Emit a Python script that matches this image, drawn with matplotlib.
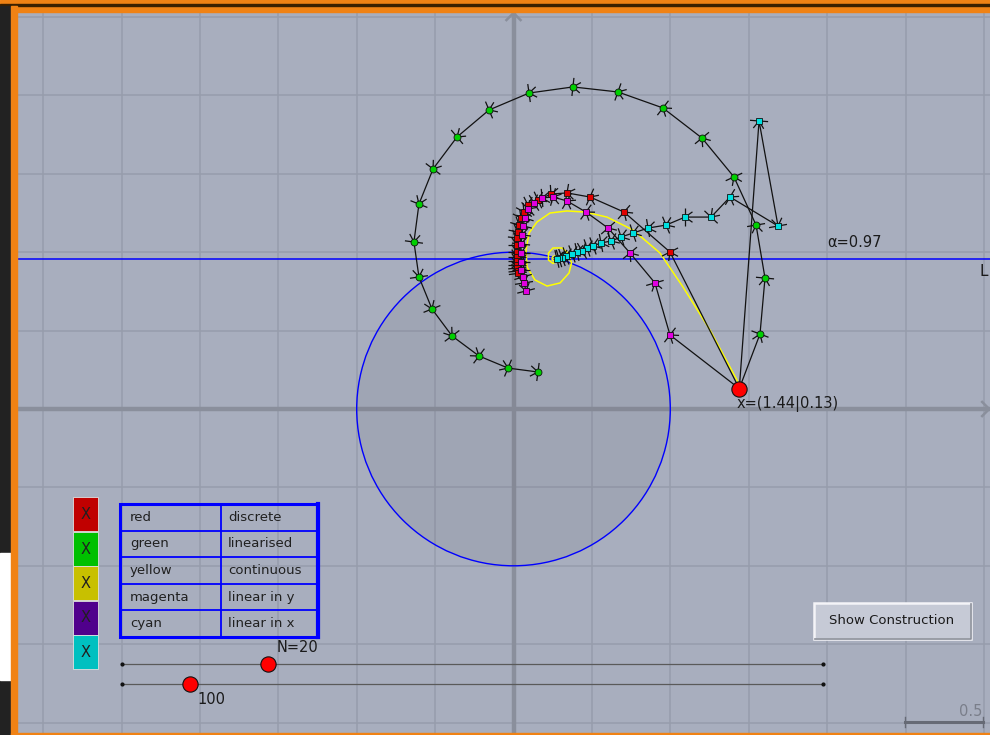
import numpy as np
import matplotlib
matplotlib.use("Agg")
import matplotlib.pyplot as plt
from matplotlib.patches import Rectangle, Circle
from matplotlib.collections import LineCollection

# ---- data (units of the plane) ----
x0 = (1.44, 0.13)
alpha = 0.97
fixed_pt = (0.258, 0.960)
line_y = 0.957

green_x = [1.572, 1.604, 1.547, 1.406, 1.202, 0.953, 0.666, 0.379, 0.099, -0.156,
           -0.360, -0.513, -0.603, -0.635, -0.603, -0.520, -0.392, -0.220, -0.035, 0.156]
green_y = [0.478, 0.835, 1.173, 1.480, 1.728, 1.920, 2.022, 2.054, 2.015, 1.907,
           1.735, 1.531, 1.307, 1.065, 0.842, 0.638, 0.466, 0.338, 0.261, 0.236]

red_x = [0.998, 0.705, 0.488, 0.341, 0.239, 0.156, 0.092, 0.067, 0.048, 0.035,
         0.026, 0.022, 0.022, 0.022, 0.022, 0.022, 0.022, 0.024, 0.026, 0.028]
red_y = [1.001, 1.256, 1.352, 1.378, 1.371, 1.333, 1.301, 1.256, 1.218, 1.173,
         1.129, 1.091, 1.046, 1.001, 0.969, 0.945, 0.920, 0.899, 0.880, 0.865]

magenta_x = [0.998, 0.902, 0.743, 0.603, 0.462, 0.341, 0.252, 0.182, 0.131, 0.092,
             0.073, 0.061, 0.054, 0.048, 0.048, 0.048, 0.048, 0.061, 0.067, 0.080]
magenta_y = [0.472, 0.804, 0.995, 1.154, 1.256, 1.327, 1.352, 1.346, 1.314, 1.276,
             1.218, 1.167, 1.110, 1.052, 0.995, 0.938, 0.886, 0.842, 0.804, 0.753]

cyan_x = [1.566, 1.687, 1.381, 1.260, 1.094, 0.973, 0.858, 0.762, 0.686, 0.622,
          0.558, 0.507, 0.469, 0.437, 0.405, 0.373, 0.335, 0.309, 0.290, 0.277]
cyan_y = [1.837, 1.167, 1.352, 1.224, 1.224, 1.173, 1.154, 1.122, 1.097, 1.071,
          1.059, 1.040, 1.027, 1.008, 1.001, 0.989, 0.976, 0.966, 0.960, 0.957]

yellow_x = [1.444, 1.432, 1.253, 1.081, 0.934, 0.762, 0.596, 0.456, 0.341, 0.233,
            0.150, 0.099, 0.080, 0.086, 0.137, 0.214, 0.297, 0.354, 0.370, 0.348,
            0.309, 0.252, 0.223, 0.223, 0.252, 0.277, 0.271, 0.258]
yellow_y = [0.128, 0.172, 0.504, 0.778, 0.995, 1.142, 1.224, 1.256, 1.263, 1.250,
            1.193, 1.122, 1.014, 0.906, 0.823, 0.784, 0.804, 0.867, 0.931, 0.995,
            1.027, 1.027, 0.995, 0.950, 0.928, 0.944, 0.964, 0.960]

legend_names = ["red", "green", "yellow", "magenta", "cyan"]
legend_desc = ["discrete", "linearised", "continuous", "linear in y", "linear in x"]
box_colors = ["#c00000", "#00c000", "#c8c000", "#50008c", "#00c0c0"]

N = 20
steps = 100
slider_max = [96, 1030]

# ---- figure ----
W, H = 990, 735
fig = plt.figure(figsize=(W / 100, H / 100), dpi=100)
bg = "#a8aebe"
orange = "#f08214"

# frame around the view
fig.patches.append(Rectangle((0, 1 - 12 / H), 1, 12 / H, transform=fig.transFigure,
                             color=orange, zorder=0))
fig.patches.append(Rectangle((0, 1 - 5.5 / H), 1, 1.2 / H, transform=fig.transFigure,
                             color="#3a2000", zorder=0))
fig.patches.append(Rectangle((0, 0), 11 / W, 1 - 5.5 / H, transform=fig.transFigure,
                             color="#222222", zorder=0))
fig.patches.append(Rectangle((0, 55 / H), 11 / W, 127 / H, transform=fig.transFigure,
                             color="#ffffff", zorder=0))
fig.patches.append(Rectangle((11 / W, 0), 6 / W, 1 - 5.5 / H, transform=fig.transFigure,
                             color=orange, zorder=0))
fig.patches.append(Rectangle((11 / W, 0), 1, 2.5 / H, transform=fig.transFigure,
                             color=orange, zorder=0))

scale = 156.8
ox, oy = 513.5, 409
ax = fig.add_axes([17 / W, 2.5 / H, 973 / W, 720.5 / H])
ax.set_xlim((17 - ox) / scale, (990 - ox) / scale)
ax.set_ylim((oy - 732.5) / scale, (oy - 12) / scale)
ax.set_facecolor(bg)
for s in ax.spines.values():
    s.set_visible(False)
ax.set_xticks(np.arange(-3, 3.01, 0.5))
ax.set_yticks(np.arange(-2, 2.51, 0.5))
ax.tick_params(length=0, labelbottom=False, labelleft=False)
ax.grid(True, color="#979dac", lw=1.1)
ax.set_axisbelow(True)

# axes with arrows
axc = "#8a8f9c"
ax.axhline(0, color=axc, lw=3.2, zorder=1)
ax.axvline(0, color=axc, lw=3.2, zorder=1)
xt = ax.get_xlim()[1] - 0.005
yt = (oy - 13) / scale
ax.plot([xt - 0.045, xt, xt - 0.045], [0.045, 0, -0.045], color=axc, lw=1.8, zorder=1)
ax.plot([-0.045, 0, 0.045], [yt - 0.045, yt, yt - 0.045], color=axc, lw=1.8, zorder=1)

# unit disk and line
ax.add_patch(Circle((0, 0), 1, facecolor="#646470", alpha=0.12, edgecolor="none", zorder=2))
ax.add_patch(Circle((0, 0), 1, facecolor="none", edgecolor="#0000ff", lw=1.0, zorder=3))
ax.axhline(line_y, color="#0000ff", lw=1.1, zorder=3)

# continuous curve
ax.plot(yellow_x, yellow_y, color="#ffff00", lw=1.1, zorder=4)
ax.plot(*fixed_pt, "o", ms=3.5, mfc="none", mec="#ffff00", mew=1.0, zorder=4)


def tick_marks(xs, ys):
    L = 0.058
    segs = []
    for i in range(1, len(xs)):
        dx, dy = xs[i] - xs[i - 1], ys[i] - ys[i - 1]
        n = np.hypot(dx, dy)
        dx, dy = dx / n, dy / n
        px, py = -dy, dx
        segs.append([(xs[i] - px * L, ys[i] - py * L), (xs[i] + px * L, ys[i] + py * L)])
        for sgn in (1, -1):
            a = np.radians(35 * sgn)
            rx = dx * np.cos(a) - dy * np.sin(a)
            ry = dx * np.sin(a) + dy * np.cos(a)
            segs.append([(xs[i], ys[i]), (xs[i] - rx * L, ys[i] - ry * L)])
    return LineCollection(segs, colors="#111111", lw=0.9, zorder=5)


series = [
    (green_x, green_y, "#00d000", "o", 5),
    (red_x, red_y, "#e00000", "s", 4.2),
    (magenta_x, magenta_y, "#e000e0", "s", 4.2),
    (cyan_x, cyan_y, "#00e0e0", "s", 4.2),
]
for xs, ys, c, m, ms in series:
    px = [x0[0]] + xs
    py = [x0[1]] + ys
    ax.plot(px, py, color="#111111", lw=0.9, zorder=5)
    ax.add_collection(tick_marks(px, py))
    ax.plot(xs, ys, m, ms=ms, mfc=c, mec="#111111", mew=0.6, zorder=6)

ax.plot(*x0, "o", ms=11, mfc="#ff0000", mec="#111111", mew=0.8, zorder=7)
ax.text(x0[0] - 0.02, x0[1] - 0.1, "x=(%.2f|%.2f)" % x0, fontsize=10.5,
        color="#1a1a1a", ha="left", va="center", zorder=7)
ax.text(2.0, 1.06, "\u03b1=%.2f" % alpha, fontsize=10.5, color="#1a1a1a",
        ha="left", va="center", zorder=7)
ax.text(2.975, 0.874, "L", fontsize=11, color="#1a1a1a", ha="left", va="center",
        zorder=7, clip_on=True)

# ---- UI overlay in pixel space ----
ui = fig.add_axes([0, 0, 1, 1], zorder=10)
ui.set_xlim(0, W)
ui.set_ylim(H, 0)
ui.axis("off")

# checkboxes
for i, c in enumerate(box_colors):
    y = 497 + i * 34.5
    ui.add_patch(Rectangle((73, y), 25, 34, facecolor=c, edgecolor="#e0e0e0", lw=0.6))
    ui.text(85.5, y + 17.5, "X", fontsize=10.5, color="#202020", ha="center", va="center")

# legend table
tx0, tx1, tcol = 120, 318, 221
ty0, rh = 504, 26.6
for i, (a, b) in enumerate(zip(legend_names, legend_desc)):
    yc = ty0 + rh * (i + 0.5)
    ui.text(130, yc, a, fontsize=9.5, color="#202020", ha="left", va="center")
    ui.text(228, yc, b, fontsize=9.5, color="#202020", ha="left", va="center")
    if i > 0:
        ui.plot([tx0, tx1], [ty0 + rh * i] * 2, color="#0000ff", lw=1.3)
ui.plot([tcol, tcol], [ty0, ty0 + rh * 5], color="#0000ff", lw=1.3)
ui.add_patch(Rectangle((tx0, ty0), tx1 - tx0, rh * 5, facecolor="none",
                       edgecolor="#0000ff", lw=2.2))
ui.plot([tx1, tx1], [ty0, ty0 + rh * 5], color="#0000ff", lw=3.0)

# sliders
for k, (val, vmax, yy) in enumerate(zip([N, steps], slider_max, [664, 684])):
    ui.plot([122, 823], [yy, yy], color="#5a5a5a", lw=0.9)
    ui.plot([122, 823], [yy, yy], "o", ms=2, color="#111111")
    sx = 122 + (823 - 122) * val / vmax
    ui.plot(sx, yy, "o", ms=11, mfc="#ff0000", mec="#111111", mew=0.8)
ui.text(277, 648, "N=%d" % N, fontsize=10.5, color="#1a1a1a", ha="left", va="center")
ui.text(197, 700, "%d" % steps, fontsize=10.5, color="#1a1a1a", ha="left", va="center")

# button
ui.add_patch(Rectangle((814, 603), 157, 36, facecolor="#c6cad6", edgecolor="#f4f4f8", lw=1.8))
ui.plot([815, 971, 971], [639, 639, 604], color="#8a8e98", lw=1.2)
ui.text(892, 621, "Show Construction", fontsize=9.5, color="#1a1a1a",
        ha="center", va="center")

# scale bar
ui.plot([905, 983], [722, 722], color="#666a75", lw=2.2)
ui.plot([905, 905], [717, 727], color="#666a75", lw=1)
ui.plot([983, 983], [717, 727], color="#666a75", lw=1)
ui.text(982, 712, "0.5", fontsize=10.5, color="#7a7e8a", ha="right", va="center")

fig.savefig("out.png", dpi=100)
